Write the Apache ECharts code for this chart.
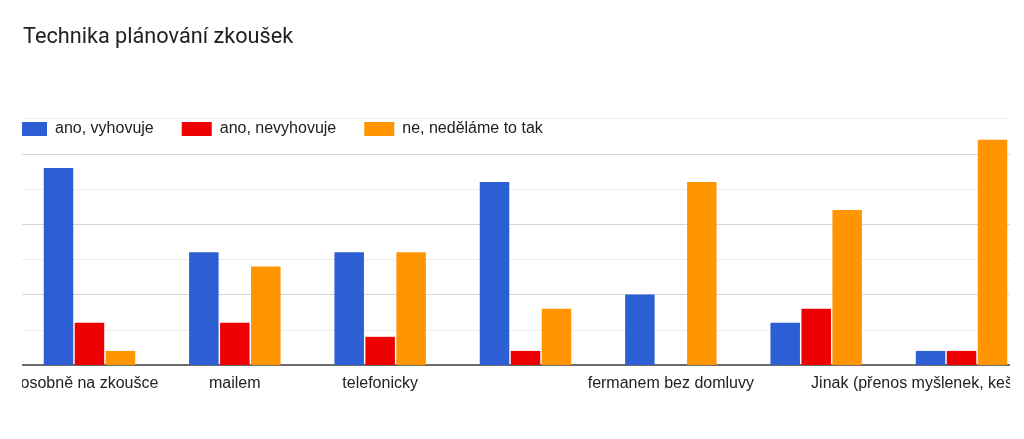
<!DOCTYPE html>
<html>
<head>
<meta charset="utf-8">
<script src="https://cdn.jsdelivr.net/npm/echarts@6/dist/echarts.min.js"></script>
<style>
  html, body { margin: 0; padding: 0; background: #ffffff; }
  #wrap { position: absolute; left: 0; top: 0; width: 1010px; height: 439px; overflow: hidden; clip-path: inset(0 0 0 22px); }
  #chart { position: absolute; left: 0; top: 0; width: 1060px; height: 439px; }
</style>
</head>
<body>
<div id="wrap"><div id="chart"></div></div>
<script>
const titleText = 'Technika plánování zkoušek';
const categories = ['osobně na zkoušce', 'mailem', 'telefonicky', '', 'fermanem bez domluvy', ' ', 'Jinak (přenos myšlenek, keš'];
const seriesNames = ['ano, vyhovuje', 'ano, nevyhovuje', 'ne, neděláme to tak'];
const anoVyhovuje = [14, 8, 8, 13, 5, 3, 1];
const anoNevyhovuje = [3, 3, 2, 1, 0, 4, 1];
const neNedelame = [1, 7, 8, 4, 13, 11, 16];
const colors = ['#2d5fd4', '#ee0000', '#ff9500'];

const font = '"Liberation Sans", Arial, sans-serif';
const chart = echarts.init(document.getElementById('chart'), null, { renderer: 'canvas' });
const hidden = [3, 5];
const lastIdx = categories.length - 1;

const mkSeries = (name, data, color) => ({
  name: name,
  type: 'bar',
  data: data,
  barWidth: 29.5,
  barGap: '5%',
  itemStyle: { color: color },
  emphasis: { disabled: true }
});

chart.setOption({
  animation: false,
  backgroundColor: '#ffffff',
  color: colors,
  title: {
    text: titleText,
    left: 18,
    top: 22,
    textStyle: { fontFamily: 'Roboto, "Open Sans", sans-serif', fontSize: 21.7, fontWeight: 'normal', color: '#202124' }
  },
  legend: {
    left: 12,
    top: 116,
    itemWidth: 30,
    itemHeight: 14,
    itemGap: 28,
    icon: 'rect',
    textStyle: { fontFamily: font, fontSize: 16, color: '#222222', padding: [0, 0, 0, 3] },
    data: seriesNames
  },
  grid: { left: 16.8, right: 25.8, top: 118.6, bottom: 74, containLabel: false },
  xAxis: {
    type: 'category',
    data: categories,
    axisLine: { show: true, lineStyle: { color: '#6b6b6b', width: 2 } },
    axisTick: { show: false },
    axisLabel: {
      interval: function (i) { return hidden.indexOf(i) < 0; },
      margin: 11,
      fontFamily: font,
      fontSize: 16,
      color: '#222222',
      formatter: function (v, i) { return i === lastIdx ? '{clip|' + v + '}' : v; },
      rich: { clip: { fontFamily: font, fontSize: 16, color: '#222222', padding: [0, 99, 0, 0] } }
    }
  },
  yAxis: {
    type: 'value',
    min: 0,
    max: 17.5,
    interval: 2.5,
    axisLine: { show: false },
    axisTick: { show: false },
    axisLabel: { show: false },
    splitLine: { show: true, lineStyle: { color: ['#d6d6d6', '#ececec'], width: 1 } }
  },
  series: [
    mkSeries(seriesNames[0], anoVyhovuje, colors[0]),
    mkSeries(seriesNames[1], anoNevyhovuje, colors[1]),
    mkSeries(seriesNames[2], neNedelame, colors[2])
  ]
});
</script>
</body>
</html>
